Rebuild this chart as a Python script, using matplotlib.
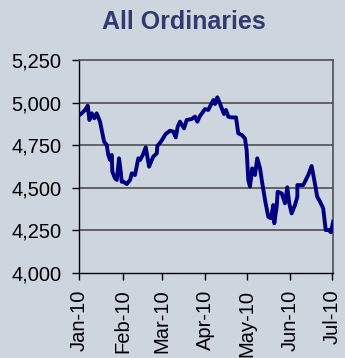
import datetime as dt

import matplotlib
matplotlib.use('Agg')
import matplotlib.pyplot as plt
import matplotlib.dates as mdates
from matplotlib.ticker import FuncFormatter

# All Ordinaries, first half of 2010
# days counted from 1 Jan 2010
days = [0.0, 1.7, 4.1, 6.0, 7.2, 8.9, 10.7, 12.4, 14.8, 16.0, 17.7, 19.6,
        20.7, 22.0, 23.2, 23.6, 25.5, 26.8, 28.4, 29.6, 30.3, 31.5, 33.9,
        36.3, 37.5, 39.8, 42.2, 43.4, 45.4, 47.5, 49.9, 51.3, 52.9, 55.4,
        55.8, 58.4, 61.8, 64.9, 67.2, 69.0, 70.4, 72.0, 74.9, 76.8, 80.4,
        82.8, 84.4, 86.3, 89.9, 92.3, 94.0, 95.9, 97.1, 98.7, 100.1, 101.9,
        103.5, 104.9, 106.6, 109.0, 112.1, 113.7, 116.2, 118.5, 119.7,
        120.9, 122.1, 123.7, 125.7, 127.3, 129.3, 130.9, 133.3, 135.2,
        137.1, 138.8, 139.5, 141.2, 141.9, 144.8, 146.4, 147.1, 148.8,
        150.2, 151.9, 154.3, 156.0, 156.0, 160.2, 163.8, 166.2, 168.1,
        170.2, 172.2, 174.5, 176.3, 178.5, 180.0, 181.6]
index = [4927, 4937, 4957, 4982, 4898, 4937, 4908, 4937, 4888, 4839, 4771,
         4751, 4693, 4663, 4693, 4595, 4556, 4546, 4673, 4595, 4536, 4536,
         4522, 4546, 4585, 4575, 4673, 4663, 4693, 4738, 4624, 4653, 4683,
         4702, 4745, 4771, 4816, 4835, 4830, 4796, 4859, 4888, 4849, 4898,
         4904, 4918, 4888, 4921, 4962, 4957, 4986, 5015, 4992, 5031, 5005,
         4967, 4933, 4957, 4917, 4913, 4913, 4820, 4810, 4790, 4722, 4546,
         4507, 4614, 4575, 4673, 4614, 4526, 4409, 4330, 4321, 4399, 4292,
         4389, 4477, 4467, 4428, 4409, 4503, 4409, 4350, 4399, 4448, 4516,
         4516, 4575, 4628, 4546, 4448, 4419, 4379, 4252, 4252, 4239, 4301]

month_ticks = ['2010-01-01', '2010-02-01', '2010-03-01', '2010-04-01',
               '2010-05-01', '2010-06-01', '2010-07-01']
y_ticks = [4000, 4250, 4500, 4750, 5000, 5250]

bg = '#cdd5df'
plt.rcParams['font.family'] = ['Liberation Sans', 'DejaVu Sans']

start = mdates.date2num(dt.datetime(2010, 1, 1))
x = [start + d for d in days]

fig = plt.figure(figsize=(3.45, 3.58), dpi=100, facecolor=bg)
ax = fig.add_axes([0.230, 0.2374, 0.736, 0.595])
ax.set_facecolor(bg)

for v in y_ticks[1:-1]:
    ax.axhline(v, color='#4f4f4f', lw=1.2, zorder=1)

ax.plot(x, index, color='#000080', lw=2.8, solid_joinstyle='round',
        zorder=3)

ax.set_ylim(4000, 5250)
ax.set_xlim(start, start + 181.7)
ax.set_yticks(y_ticks)
ax.yaxis.set_major_formatter(FuncFormatter(lambda v, p: f'{int(v):,}'))
ax.set_xticks([mdates.date2num(dt.datetime.strptime(m, '%Y-%m-%d'))
               for m in month_ticks])
ax.xaxis.set_major_formatter(mdates.DateFormatter('%b-%y'))

ax.tick_params(axis='y', direction='out', length=5, width=1, pad=8,
               labelsize=14.5, colors='black')
ax.tick_params(axis='x', direction='out', length=5, width=1, pad=7,
               labelsize=14.5, labelrotation=90, colors='black')

for side in ('left', 'bottom'):
    ax.spines[side].set_color('black')
    ax.spines[side].set_linewidth(1)
for side in ('top', 'right'):
    ax.spines[side].set_color('#4f4f4f')
    ax.spines[side].set_linewidth(1.2)

fig.text(0.534, 0.939, 'All Ordinaries', ha='center', va='center',
         fontsize=18, fontweight='bold', color='#333a6e')

fig.savefig('out.png', dpi=100, facecolor=bg)
